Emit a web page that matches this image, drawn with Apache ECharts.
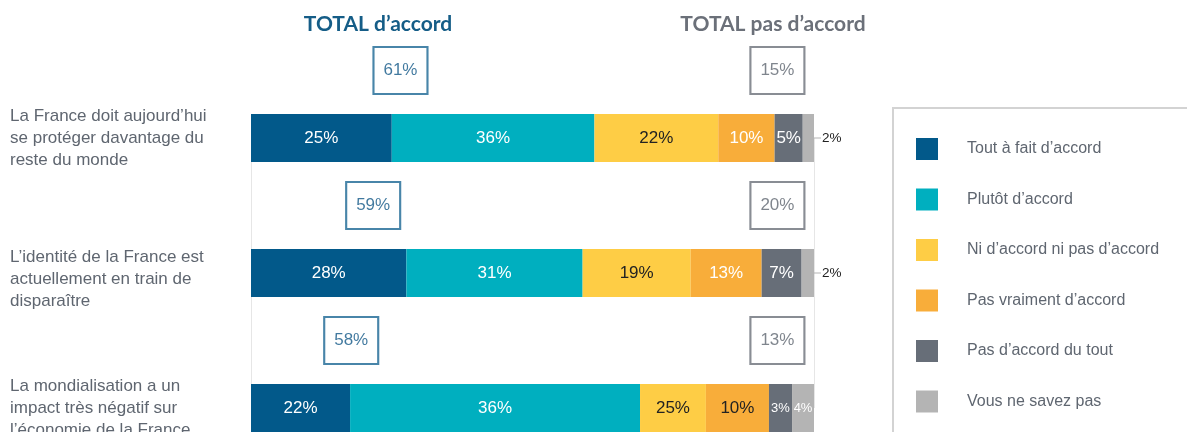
<!DOCTYPE html>
<html><head><meta charset="utf-8">
<script src="https://cdn.jsdelivr.net/npm/echarts@6/dist/echarts.min.js"></script>
<style>html,body{margin:0;padding:0;background:#fff}#c{width:1187px;height:432px}</style>
</head><body><div id="c"></div>
<script>
// ---- data ----
const statements = [
  'La France doit aujourd’hui\nse protéger davantage du\nreste du monde',
  'L’identité de la France est\nactuellement en train de\ndisparaître',
  'La mondialisation a un\nimpact très négatif sur\nl’économie de la France'
];
const seriesNames = ['Tout à fait d’accord','Plutôt d’accord','Ni d’accord ni pas d’accord','Pas vraiment d’accord','Pas d’accord du tout','Vous ne savez pas'];
// printed percentages (labels)
const toutAFait   = [25, 28, 22];
const plutot      = [36, 31, 36];
const niNi        = [22, 19, 25];
const pasVraiment = [10, 13, 10];
const pasDuTout   = [5, 7, 3];
const nsp         = [2, 2, 4];
// segment lengths as drawn in the picture (third bar is drawn out of proportion)
const toutAFaitDrawn   = [25, 27.6, 17.6];
const plutotDrawn      = [36, 31.3, 51.5];
const niNiDrawn        = [22, 19.2, 11.7];
const pasVraimentDrawn = [10, 12.6, 11.2];
const pasDuToutDrawn   = [5, 7.1, 4.1];
const nspDrawn         = [2, 2.2, 3.9];
const totalAccord    = [61, 59, 58];
const totalPasAccord = [15, 20, 13];
const headerAccord = 'TOTAL d’accord';
const headerPas = 'TOTAL pas d’accord';

// ---- layout / style ----
const FONT = "'Liberation Sans'";
const colors = ['#02598a','#00afbf','#fecd45','#f8ad3a','#676e78','#b4b4b4'];
const accordBoxX = [26.55, 21.7, 17.8];   // box centre positions along the axis
const pasBoxX = [93.5, 93.5, 93.5];
const labelSpacer = [0, 12, 0];           // extra top spacing of statement labels (px)
const labelColors = [
  ['#fff','#fff','#fff'],
  ['#fff','#fff','#fff'],
  ['#222','#222','#222'],
  ['#fff','#fff','#222'],
  ['#fff','#fff','#fff'],
  ['#fff','#fff','#fff']
];
const printed = [toutAFait, plutot, niNi, pasVraiment, pasDuTout, nsp];
const drawn = [toutAFaitDrawn, plutotDrawn, niNiDrawn, pasVraimentDrawn, pasDuToutDrawn, nspDrawn];

const yCats = ['t0','b0','t1','b1','t2','b2'];

const barSeries = drawn.map((arr, s) => {
  const data = [];
  for (let i = 0; i < 3; i++) {
    data.push('-');
    const v = printed[s][i];
    const small = v <= 4;
    let label = { color: labelColors[s][i], fontSize: small ? 13 : 17, formatter: v + '%' };
    if (s === 5 && v <= 2) {
      label = {
        position: 'right', distance: 0, color: '#222', fontSize: 13.5,
        formatter: '{l|}{t|' + v + '%}',
        rich: {
          l: { width: 7, height: 1, backgroundColor: '#b4b4b4', verticalAlign: 'middle' },
          t: { fontSize: 13.5, color: '#222', padding: [0,0,0,1], fontFamily: FONT, verticalAlign: 'middle' }
        }
      };
    }
    data.push({ value: arr[i], label });
  }
  const ser = {
    name: seriesNames[s], type: 'bar', stack: 'all', barWidth: 48,
    itemStyle: { color: colors[s] },
    label: { show: true, position: 'inside', fontFamily: FONT, fontSize: 17 },
    emphasis: { disabled: true },
    data
  };
  if (s === 0) {
    ser.markLine = {
      silent: true, symbol: 'none', label: { show: false }, z: 0,
      lineStyle: { color: '#e6e6e6', width: 1, type: 'solid' },
      data: [
        [{ coord: [0, 1] }, { coord: [0, 5] }],
        [{ coord: [100, 1] }, { coord: [100, 5] }]
      ]
    };
  }
  return ser;
});

function boxSeries(xs, vals, col, txt) {
  return {
    type: 'scatter', symbol: 'rect', symbolSize: [54, 47], z: 5,
    itemStyle: { color: '#fff', borderColor: col, borderWidth: 2 },
    label: { show: true, position: 'inside', color: txt, fontSize: 17, fontFamily: FONT,
      formatter: p => vals[p.dataIndex] + '%' },
    emphasis: { disabled: true },
    data: xs.map((x, i) => [x, 2 * i])
  };
}

const chart = echarts.init(document.getElementById('c'), null, { renderer: 'canvas' });
chart.setOption({
  animation: false,
  textStyle: { fontFamily: FONT },
  title: [
    { text: headerAccord, left: 373, top: 9, textAlign: 'center',
      textStyle: { fontFamily: 'Lato', fontWeight: 'bold', fontSize: 21, color: '#155d87' } },
    { text: headerPas, left: 768, top: 9, textAlign: 'center',
      textStyle: { fontFamily: 'Lato', fontWeight: 'bold', fontSize: 21, color: '#6b7079' } }
  ],
  legend: {
    orient: 'vertical', left: 893, top: 108, height: 300,
    padding: [30, 400, 100, 23],
    borderColor: '#d3d3d3', borderWidth: 2,
    itemWidth: 22, itemHeight: 22, itemGap: 28.5, icon: 'rect',
    data: seriesNames,
    selectedMode: false,
    textStyle: { fontFamily: FONT, fontSize: 16, color: '#5f6670', padding: [0,0,0,24] }
  },
  grid: { left: 251, width: 563, top: 36.75, height: 405, outerBoundsMode: 'none', containLabel: false },
  xAxis: { type: 'value', min: 0, max: 100, show: false },
  yAxis: {
    type: 'category', data: yCats, inverse: true,
    axisLine: { show: false }, axisTick: { show: false },
    axisLabel: {
      align: 'left', margin: 241, fontFamily: FONT, fontSize: 17, lineHeight: 22, color: '#5f6670',
      formatter: (v, idx) => {
        if (idx % 2 === 0) return '';
        const k = (idx - 1) / 2;
        return (labelSpacer[k] ? '{sp| }\n' : '') + statements[k];
      },
      rich: { sp: { fontSize: 6, height: 12, lineHeight: 12 } }
    }
  },
  series: barSeries.concat([
    boxSeries(accordBoxX, totalAccord, '#1a6694', '#125887'),
    boxSeries(pasBoxX, totalPasAccord, '#6b7079', '#5f6670')
  ])
});
</script></body></html>
